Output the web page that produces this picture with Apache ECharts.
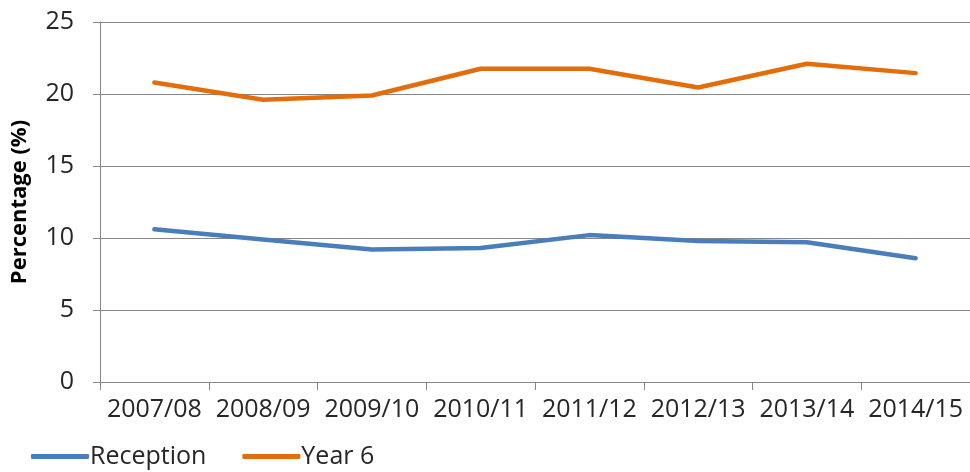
<!DOCTYPE html>
<html>
<head>
<meta charset="utf-8">
<script src="https://cdn.jsdelivr.net/npm/echarts@6/dist/echarts.min.js"></script>
<style>
  html, body { margin: 0; padding: 0; background: #fff; }
  #chart { width: 970px; height: 472px; }
</style>
</head>
<body>
<div id="chart"></div>
<script>
var years = ['2007/08', '2008/09', '2009/10', '2010/11', '2011/12', '2012/13', '2013/14', '2014/15'];
var reception = [10.6, 9.9, 9.2, 9.3, 10.2, 9.8, 9.7, 8.6];
var year6 = [20.8, 19.6, 19.9, 21.75, 21.75, 20.45, 22.1, 21.45];
var yTicks = [0, 5, 10, 15, 20, 25];

var font = '"Open Sans", "Liberation Sans", sans-serif';
var chart = echarts.init(document.getElementById('chart'));

chart.setOption({
    animation: false,
    color: ['#4a7ebb', '#e46c0a'],
    textStyle: { fontFamily: font },
    grid: { left: 100, right: 0, top: 22, bottom: 90, outerBoundsMode: 'none' },
    legend: {
        left: 26,
        bottom: -2,
        itemWidth: 58,
        itemHeight: 5,
        itemGap: 36,
        icon: 'roundRect',
        textStyle: { fontSize: 25, color: '#262626', fontFamily: font, padding: [0, 0, 0, -4] },
        data: ['Reception', 'Year 6']
    },
    xAxis: {
        type: 'category',
        data: years,
        boundaryGap: true,
        axisLine: { lineStyle: { color: '#868686', width: 1 } },
        axisTick: { show: true, length: 8, lineStyle: { color: '#868686' } },
        axisLabel: { fontSize: 25, color: '#262626', margin: 15, interval: 0 }
    },
    yAxis: {
        type: 'value',
        min: yTicks[0],
        max: yTicks[yTicks.length - 1],
        interval: 5,
        name: 'Percentage (%)',
        nameLocation: 'middle',
        nameGap: 69,
        nameTextStyle: { fontSize: 22, fontWeight: 'bold', color: '#000', fontFamily: font },
        axisLine: { show: true, lineStyle: { color: '#868686', width: 1 } },
        axisTick: { show: true, length: 7, lineStyle: { color: '#868686' } },
        splitLine: { lineStyle: { color: '#868686', width: 1 } },
        axisLabel: { fontSize: 25, color: '#262626', margin: 26 }
    },
    series: [
        {
            name: 'Reception',
            type: 'line',
            data: reception,
            symbol: 'none',
            lineStyle: { width: 4.5, cap: 'round', join: 'round' }
        },
        {
            name: 'Year 6',
            type: 'line',
            data: year6,
            symbol: 'none',
            lineStyle: { width: 4.5, cap: 'round', join: 'round' }
        }
    ]
});
</script>
</body>
</html>
